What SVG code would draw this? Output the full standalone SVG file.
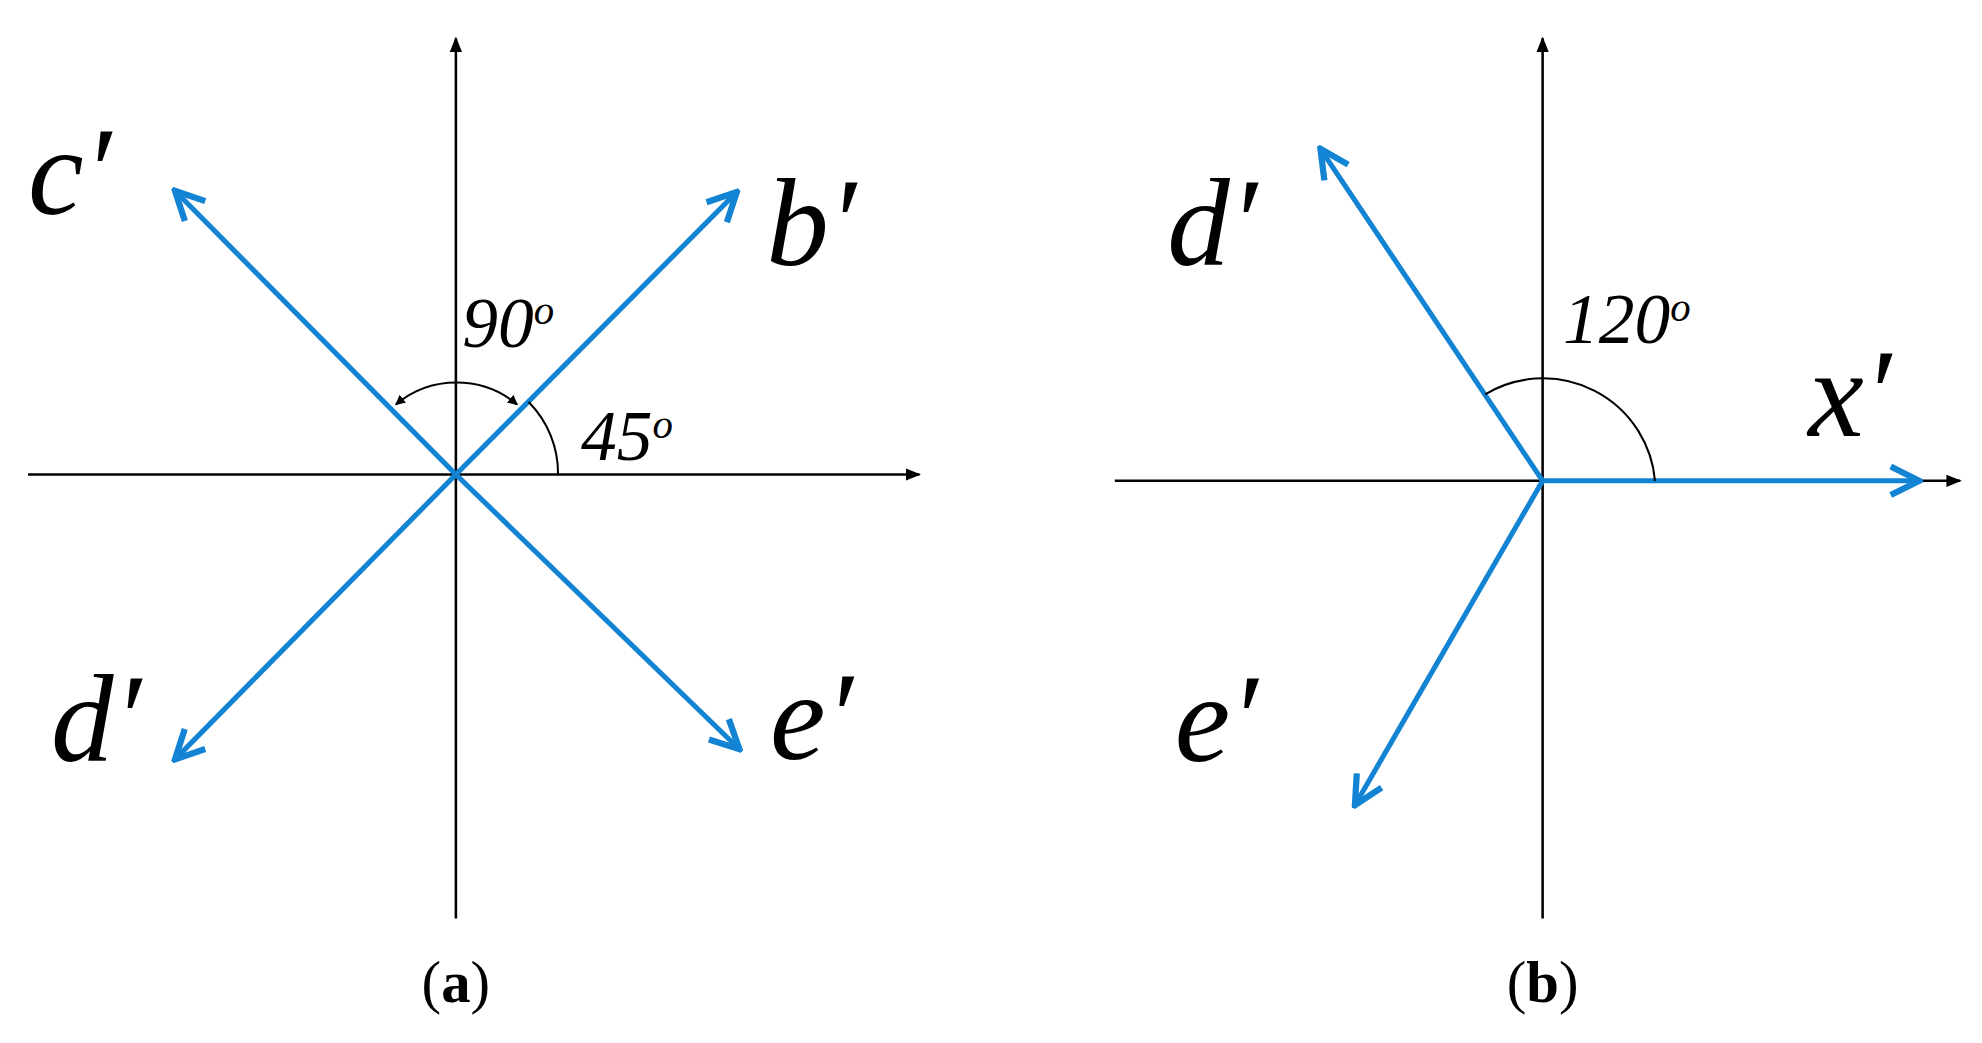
<svg xmlns="http://www.w3.org/2000/svg" width="1982" height="1043" viewBox="0 0 1982 1043">
<defs>
<style>
.ax{stroke:#000;stroke-width:2;fill:none}
.bl{stroke:#1383d3;stroke-width:4;fill:none}
.arc{stroke:#000;stroke-width:1.6;fill:none}
.lab{font-family:"Liberation Serif","DejaVu Serif",serif;font-style:italic;font-size:98px;fill:#000}
.ang{font-family:"Liberation Serif","DejaVu Serif",serif;font-style:italic;font-size:56px;fill:#000}
.cap{font-family:"Liberation Serif",serif;font-size:46px;fill:#000}
</style>
<marker id="ba" viewBox="0 0 20 20" refX="18" refY="10" markerWidth="7" markerHeight="7" orient="auto" markerUnits="strokeWidth"><polyline points="2,2 18,10 2,18" fill="none" stroke="#1383d3" stroke-width="3.5"/></marker>
<marker id="ka" viewBox="0 0 10 10" refX="9" refY="5" markerWidth="6" markerHeight="6" orient="auto" markerUnits="strokeWidth"><path d="M0,1 L10,5 L0,9 Z" fill="#000"/></marker>
<marker id="ks" viewBox="0 0 10 10" refX="9" refY="5" markerWidth="5" markerHeight="5" orient="auto-start-reverse" markerUnits="strokeWidth"><path d="M0,0 L10,5 L0,10 Z" fill="#000"/></marker>
</defs>
<g transform="scale(1.277,1.272)">
<g id="connectors">
<line class="ax" x1="357" y1="722" x2="357" y2="30" marker-end="url(#ka)"/>
<line class="ax" x1="22" y1="373" x2="720" y2="373" marker-end="url(#ka)"/>
<line class="bl" x1="357" y1="373" x2="137" y2="150" marker-end="url(#ba)"/>
<line class="bl" x1="357" y1="373" x2="577" y2="151" marker-end="url(#ba)"/>
<line class="bl" x1="357" y1="373" x2="137" y2="597" marker-end="url(#ba)"/>
<line class="bl" x1="357" y1="373" x2="579" y2="589" marker-end="url(#ba)"/>
<path class="arc" d="M310,318 A74,74 0 0 1 405,318" marker-start="url(#ks)" marker-end="url(#ks)"/>
<path class="arc" d="M414,316 A80,80 0 0 1 437,373"/>
<line class="ax" x1="1208" y1="722" x2="1208" y2="30" marker-end="url(#ka)"/>
<line class="ax" x1="873" y1="378" x2="1535" y2="378" marker-end="url(#ka)"/>
<line class="bl" x1="1208" y1="378" x2="1034" y2="117" marker-end="url(#ba)"/>
<line class="bl" x1="1208" y1="378" x2="1061" y2="633" marker-end="url(#ba)"/>
<line class="bl" x1="1208" y1="378" x2="1503" y2="378" marker-end="url(#ba)"/>
<path class="arc" d="M1163,310 A88,88 0 0 1 1296,378"/>
</g>
<g id="labels-a">
<text class="lab" x="22" y="168">c′</text>
<text class="lab" x="600" y="208">b′</text>
<text class="lab" x="40" y="598">d′</text>
<text class="lab" x="603" y="597">e′</text>
<text class="ang" x="362" y="273">90<tspan font-size="32" dy="-18">o</tspan></text>
<text class="ang" x="455" y="362">45<tspan font-size="32" dy="-18">o</tspan></text>
<text class="cap" x="357" y="788" text-anchor="middle">(<tspan font-weight="bold">a</tspan>)</text>
</g>
<g id="labels-b">
<text class="lab" x="914" y="208">d′</text>
<text class="lab" x="920" y="598">e′</text>
<text class="lab" x="1416" y="343">x′</text>
<text class="ang" x="1224" y="270">120<tspan font-size="32" dy="-18">o</tspan></text>
<text class="cap" x="1208" y="788" text-anchor="middle">(<tspan font-weight="bold">b</tspan>)</text>
</g>
</g>
</svg>
